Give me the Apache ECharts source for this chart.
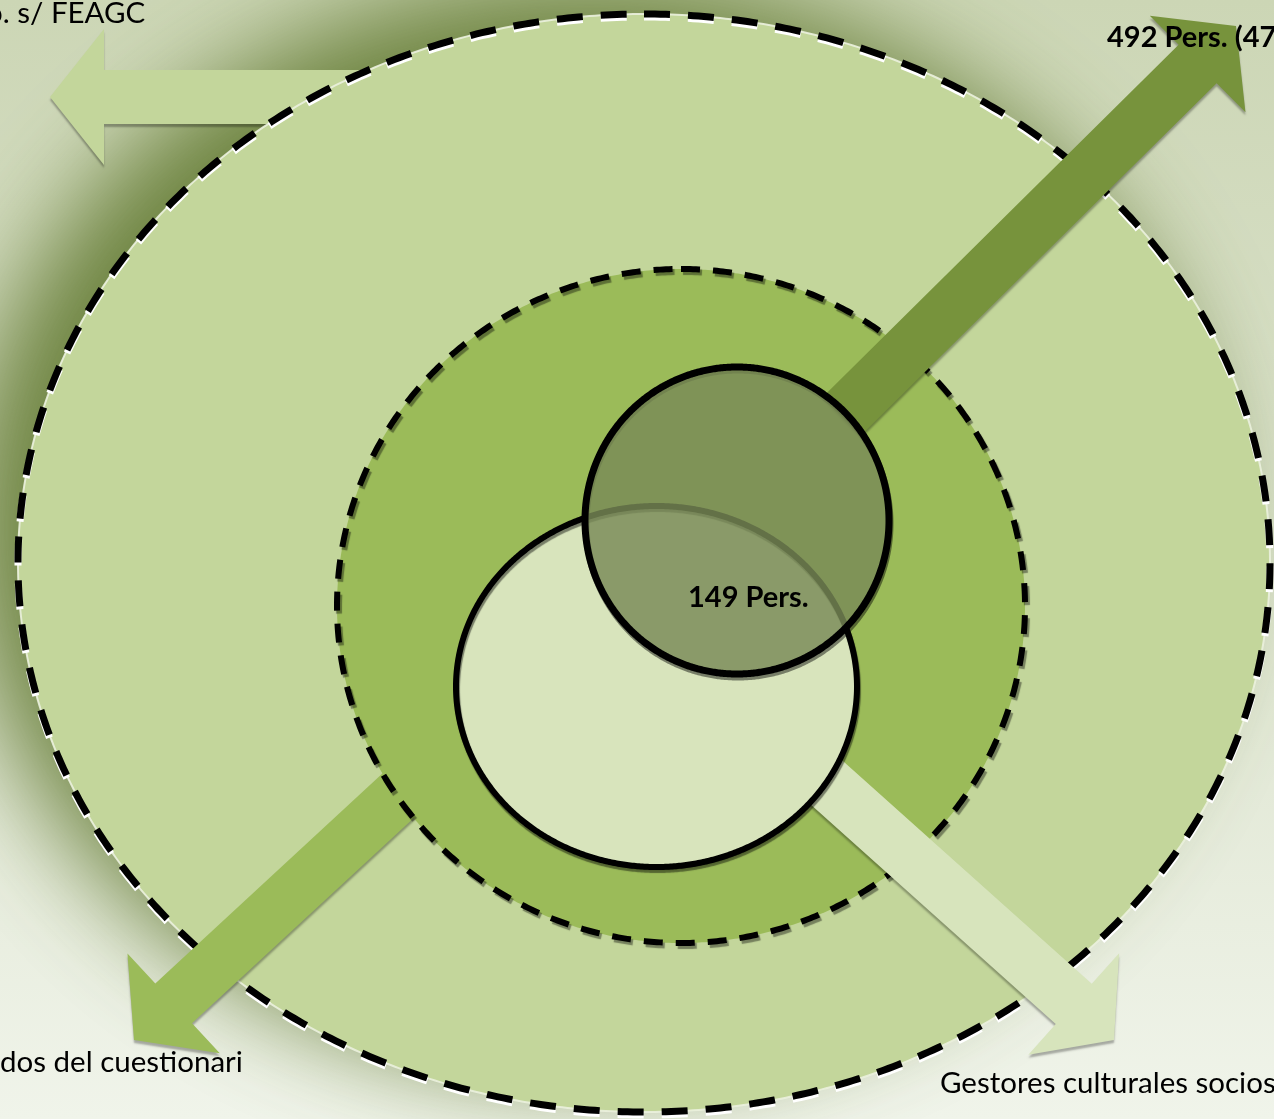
<!DOCTYPE html>
<html><head><meta charset="utf-8">
<script src="https://cdn.jsdelivr.net/npm/echarts@6/dist/echarts.min.js"></script>
<style>html,body{margin:0;padding:0;overflow:hidden;background:#fff}#c{width:1274px;height:1119px}</style>
</head><body><div id="c"></div>
<script>
// ---- diagram data (diagram units; the hidden axes map them onto the canvas) ----
const setNames = ['Total', 'Cuestionario', 'Socios FEAGC', 'Gestores culturales socios'];
const setCx = [644, 681, 656.5, 737];
const setCy = [563, 606, 686.5, 520.5];
const setRx = [626, 344, 200.5, 152];
const setRy = [549, 337, 180.5, 153.5];

const arrowNames = ['Socios FEAGC', 'Encuestados', 'Cuestionario', 'Gestores culturales'];
const arrowFromX = [460, 842, 560, 645];
const arrowFromY = [97, 416, 646, 620];
const arrowToX = [50, 1236, 134, 1114];
const arrowToY = [97, 26, 1040, 1040];

const labelTexts = ['o. s/ FEAGC', '492 Pers. (47%)', '149 Pers.', 'dos del cuestionari', 'Gestores culturales socios'];
const labelX = [-14, 1107, 688, 0, 940];
const labelY = [13, 38, 598, 1062, 1083];

// ---- styles ----
const FONT = 'Lato, "Open Sans", sans-serif';
const labelWeight = ['normal', 'bold', 'bold', 'normal', 'normal'];
const labelSize = [29.5, 29, 29, 29.5, 29.5];
const setFill = ['#c3d69b', '#9bbb59', '#d8e4bc', 'rgba(121,138,87,0.82)'];
const arrowFill = ['#c3d69b', '#77933c', '#9bbb59', '#d7e4bc'];
const SHAFT = 54, HEADW = 136, HEADL = 54;

function renderAll(params, api) {
  const kids = [];
  let z = 1;
  const add = (el) => { el.z2 = z++; kids.push(el); };
  const P = (x, y) => api.coord([x, y]);

  function ellipsePts(i) {
    const c = P(setCx[i], setCy[i]);
    const e = P(setCx[i] + setRx[i], setCy[i] + setRy[i]);
    const rx = Math.abs(e[0] - c[0]), ry = Math.abs(e[1] - c[1]);
    const pts = [];
    const N = 720;
    for (let k = 0; k < N; k++) {
      const a = -Math.PI / 2 + k / N * Math.PI * 2;
      pts.push([c[0] + rx * Math.cos(a), c[1] + ry * Math.sin(a)]);
    }
    return pts;
  }
  function arrowPts(i) {
    const f = P(arrowFromX[i], arrowFromY[i]);
    const t = P(arrowToX[i], arrowToY[i]);
    let dx = t[0] - f[0], dy = t[1] - f[1];
    const L = Math.hypot(dx, dy); dx /= L; dy /= L;
    const nx = -dy, ny = dx;
    const b = [t[0] - dx * HEADL, t[1] - dy * HEADL];
    const s = SHAFT / 2, h = HEADW / 2;
    return [
      [f[0] + nx * s, f[1] + ny * s], [b[0] + nx * s, b[1] + ny * s], [b[0] + nx * h, b[1] + ny * h],
      [t[0], t[1]],
      [b[0] - nx * h, b[1] - ny * h], [b[0] - nx * s, b[1] - ny * s], [f[0] - nx * s, f[1] - ny * s]
    ];
  }
  function arrow(i) {
    add({ type: 'polygon', shape: { points: arrowPts(i) },
      style: { fill: arrowFill[i], stroke: null, shadowColor: 'rgba(0,0,0,0.30)', shadowBlur: 2, shadowOffsetX: 0, shadowOffsetY: 3 } });
  }

  // background
  const p0 = P(0, 0), p1 = P(1274, 1119);
  add({ type: 'rect', shape: { x: p0[0], y: p0[1], width: p1[0] - p0[0], height: p1[1] - p0[1] },
    style: { fill: { type: 'linear', x: 0, y: 0, x2: 0, y2: 1, colorStops: [
      { offset: 0, color: '#ccd6b5' }, { offset: 0.5, color: '#dce3cd' }, { offset: 1, color: '#f0f4ea' } ] } } });
  // soft shadow of the outer set
  const outer = ellipsePts(0);
  add({ type: 'polygon', shape: { points: outer },
    style: { fill: '#c3d69b', shadowColor: 'rgba(90,115,40,0.85)', shadowBlur: 100, shadowOffsetX: -55, shadowOffsetY: -35 } });
  // left arrow behind the outer set
  arrow(0);
  // outer set
  add({ type: 'polygon', shape: { points: outer }, style: { fill: setFill[0], stroke: 'rgba(235,241,222,0.9)', lineWidth: 2 } });
  add({ type: 'polygon', shape: { points: outer },
    style: { fill: null, stroke: '#000', lineWidth: 7, lineDash: [26, 18], shadowColor: 'rgba(255,255,255,1)', shadowBlur: 0, shadowOffsetX: 0, shadowOffsetY: 3 } });
  // bottom-left arrow
  arrow(2);
  // middle set
  const mid = ellipsePts(1);
  add({ type: 'polygon', shape: { points: mid }, style: { fill: setFill[1] } });
  add({ type: 'polygon', shape: { points: mid },
    style: { fill: null, stroke: '#000', lineWidth: 6, lineDash: [19, 13], shadowColor: 'rgba(0,0,0,0.4)', shadowBlur: 1, shadowOffsetX: 2, shadowOffsetY: 3 } });
  // arrows over the middle set
  arrow(1);
  arrow(3);
  // light circle
  const lc = ellipsePts(2);
  add({ type: 'polygon', shape: { points: lc }, style: { fill: setFill[2], stroke: '#000', lineWidth: 6,
    shadowColor: 'rgba(0,0,0,0.45)', shadowBlur: 1, shadowOffsetX: 1, shadowOffsetY: 3 } });
  // dark circle
  const dc = ellipsePts(3);
  add({ type: 'polygon', shape: { points: dc }, style: { fill: null, stroke: 'rgba(0,0,0,0.45)', lineWidth: 7 }, x: 1, y: 3 });
  add({ type: 'polygon', shape: { points: dc }, style: { fill: setFill[3], stroke: '#000', lineWidth: 7 } });

  // labels
  for (let i = 0; i < labelTexts.length; i++) {
    const p = P(labelX[i], labelY[i]);
    add({ type: 'text', x: p[0], y: p[1], style: { text: labelTexts[i], fill: '#000',
      font: labelWeight[i] + ' ' + labelSize[i] + 'px ' + FONT, align: 'left', verticalAlign: 'middle' } });
  }
  return { type: 'group', children: kids };
}

const chart = echarts.init(document.getElementById('c'), null, { renderer: 'canvas' });
chart.setOption({
  animation: false,
  grid: { left: 0, right: 0, top: 0, bottom: 0 },
  xAxis: { type: 'value', min: 0, max: 1274, show: false },
  yAxis: { type: 'value', min: 0, max: 1119, inverse: true, show: false },
  series: [{ type: 'custom', renderItem: renderAll, data: [[0, 0]], clip: false, silent: true }]
});
</script></body></html>
